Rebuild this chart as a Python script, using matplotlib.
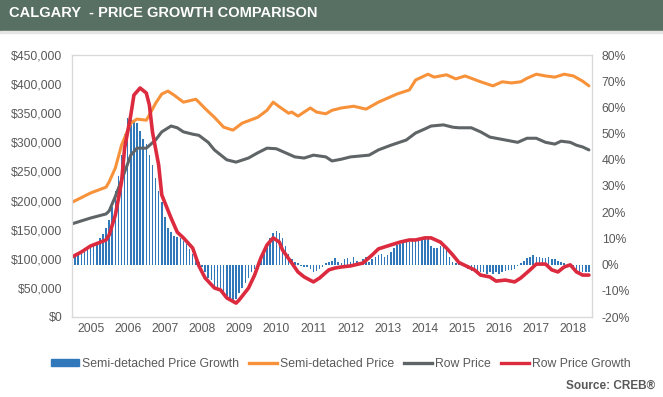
import numpy as np
import matplotlib.pyplot as plt
from matplotlib.patches import Patch, Rectangle
from matplotlib.lines import Line2D

# ---- data (month index 0 = Jan 2005) ----
years = [str(y) for y in range(2005, 2019)]

# Semi-detached price growth, % (monthly bars)
semi_growth = [
    2.5, 3, 3.5, 4.5, 5, 6, 6.5, 7.5, 8.5, 10, 11.5, 14,          # 2005
    17, 22, 28, 34, 42, 50, 56, 57, 55, 54, 51, 48,               # 2006
    46, 42, 38, 33, 28, 24, 18, 14, 12.5, 11, 10.5, 10,           # 2007
    9, 8, 6, 4, 2.5, 1, -1, -3, -5, -6, -8, -9,                   # 2008
    -10, -11, -12, -13, -14, -13, -11, -9, -7, -5, -3, -1.5,      # 2009
    0.5, 2, 4, 7, 10, 12, 13, 12, 10, 7, 4, 2,                    # 2010
    1, 0.5, -0.5, -1, -1, -1.5, -3, -2.5, -1.5, -1, 0.5, 1,       # 2011
    1.5, 2.5, 1, 0.5, 2, 2.5, 1, 3, 1.5, 0.5, 2, 3,               # 2012
    1, 2, 3, 3.5, 4, 3, 3.5, 5, 6.5, 7.5, 8, 8.5,                 # 2013
    8.5, 8.5, 9, 9.5, 9.5, 10, 10, 10, 7, 6.5, 6.5, 7,            # 2014
    7.5, 5.5, 3, 1, 0.5, 0.3, 0, -0.5, -1.5, -2.5, -3, -3,        # 2015
    -3, -3, -3.5, -3, -3.5, -3, -3.5, -3, -2.5, -2, -2, -1.5,     # 2016
    -0.5, 0.5, 1.5, 2.5, 3, 3.5, 3, 3, 2.5, 2.5, 3, 2,            # 2017
    2, 1.5, 1, 0.5, 0, -1, -2, -3, -3, -3, -3, -3,                # 2018
]

# Semi-detached price, $000
semi_m = [0, 6, 11, 12, 14, 16, 19, 21, 24, 25, 27, 29, 31, 33, 36, 40, 41, 43, 46,
          49, 52, 55, 60, 63, 65, 67, 70, 71, 73, 77, 79, 82, 84, 87, 91, 95, 99,
          105, 109, 111, 115, 117, 121, 124, 127, 132, 136, 139, 142, 145, 147,
          150, 153, 156, 159, 162, 165, 167]
semi_price = [197, 213, 223, 232, 256, 295, 333, 340, 338, 347, 367, 383, 388, 381,
              369, 374, 369, 358, 343, 326, 321, 333, 343, 355, 369, 361, 350, 352,
              345, 359, 352, 349, 355, 359, 362, 357, 369, 383, 390, 407, 417, 412,
              416, 409, 414, 404, 397, 404, 402, 404, 410, 417, 414, 412, 417, 414,
              405, 397]

# Row price, $000
row_m = [0, 6, 11, 12, 14, 17, 19, 21, 24, 27, 29, 32, 34, 36, 39, 41, 44, 46, 50,
         53, 57, 60, 63, 66, 69, 72, 75, 78, 82, 84, 87, 90, 96, 99, 103, 108, 111,
         114, 116, 120, 123, 125, 129, 132, 135, 137, 140, 144, 147, 150, 153, 156,
         158, 161, 163, 165, 167]
row_price = [160, 170, 177, 182, 207, 249, 278, 290, 290, 304, 318, 328, 325, 318,
             314, 312, 300, 287, 270, 266, 273, 282, 290, 289, 282, 275, 273, 278,
             275, 268, 271, 275, 278, 287, 295, 304, 316, 323, 328, 330, 326, 325,
             325, 318, 309, 307, 304, 300, 307, 307, 300, 297, 302, 300, 295, 292, 287]

# Row price growth, %
rowg_m = [0, 3, 6, 11, 12, 14, 16, 17, 19, 20, 22, 24, 25, 26, 28, 29, 32, 34, 36,
          39, 41, 43, 46, 48, 50, 53, 54, 57, 59, 61, 63, 65, 67, 68, 71, 73, 75,
          78, 80, 83, 85, 87, 90, 94, 97, 99, 103, 106, 109, 111, 114, 116, 119,
          121, 123, 125, 128, 130, 132, 135, 137, 140, 143, 145, 148, 150, 153,
          155, 157, 159, 161, 163, 165, 167]
row_growth = [2.9, 4.8, 7.1, 9.4, 11.3, 18.9, 31.5, 44.5, 57.1, 64.7, 67.4, 65.5,
              60.9, 50.6, 38, 26.6, 17.8, 12.4, 10.2, 6.3, -0.5, -5.1, -8.9, -9.7,
              -12.7, -14.7, -13.5, -9, -4, 2.5, 7.5, 10.2, 8.6, 5.6, 0.6, -2.8,
              -4.7, -6.6, -5.1, -2, -1.3, -0.9, -0.5, 0.6, 3.7, 6, 7.5, 8.6, 9.4,
              9.4, 10.2, 10.2, 8.6, 6.3, 3.7, 0.8, -0.9, -2, -4, -4.7, -6.3, -5.9,
              -6.6, -5.1, -2, 0.2, 0.2, -2, -2.8, -0.9, -0.1, -2.8, -4, -4]

BLUE = '#3178bb'
ORANGE = '#f7923a'
GRAY = '#5f6466'
RED = '#dc2a3e'
TXT = '#595959'
GRID = '#d9d9d9'
plt.rcParams['font.family'] = ['Liberation Sans', 'DejaVu Sans']

fig = plt.figure(figsize=(6.63, 3.97), dpi=100)

# header band
fig.patches.append(Rectangle((0, 1 - 31 / 397), 1, 31 / 397, transform=fig.transFigure,
                             color='#586f63', zorder=0))
fig.patches.append(Rectangle((0, 1 - 33 / 397), 1, 2 / 397, transform=fig.transFigure,
                             color='#e3e6e4', zorder=0))
fig.text(9 / 663, 1 - 13 / 397, 'CALGARY  - PRICE GROWTH COMPARISON', color='white',
         fontsize=10.5, fontweight='bold', va='center', ha='left')

rect = [72 / 663, 1 - 317 / 397, 520 / 663, 262 / 397]
ax = fig.add_axes(rect)          # % scale, bars
axp = ax.twinx()                 # $ scale, price lines
axr = ax.twinx()                 # % scale, red line on top

bx = 2005 + np.arange(len(semi_growth)) / 12
ax.bar(bx, semi_growth, width=0.042, color=BLUE, align='center', zorder=2)

axp.plot(2005 + np.array(semi_m) / 12, np.array(semi_price) * 1000, color=ORANGE,
         lw=2.2, solid_capstyle='round')
axp.plot(2005 + np.array(row_m) / 12, np.array(row_price) * 1000, color=GRAY,
         lw=2.2, solid_capstyle='round')
axr.plot(2005 + np.array(rowg_m) / 12, row_growth, color=RED, lw=2.6,
         solid_capstyle='round')

for a in (ax, axp, axr):
    a.set_xlim(2005, 2019)
    for s in a.spines.values():
        s.set_color(GRID)
        s.set_linewidth(0.8)
    a.tick_params(length=0)

ax.set_ylim(-20, 80)
axr.set_ylim(-20, 80)
axp.set_ylim(0, 450000)

ax.yaxis.tick_right()
ax.set_yticks(range(-20, 81, 10))
ax.set_yticklabels([f'{v}%' for v in range(-20, 81, 10)], color=TXT, fontsize=8.7)
ax.tick_params(axis='y', pad=7)

axp.yaxis.tick_left()
axp.set_yticks(range(0, 450001, 50000))
axp.set_yticklabels([f'${v:,}' for v in range(0, 450001, 50000)], color=TXT,
                    fontsize=8.8)
axp.tick_params(axis='y', pad=7)
axr.set_yticks([])

ax.set_xticks(range(2005, 2020))
ax.set_xticklabels([])
ax.grid(axis='x', color=GRID, lw=0.8, zorder=0)
ax.set_xticks(np.arange(2005.5, 2019, 1), minor=True)
ax.set_xticklabels(years, minor=True, color=TXT, fontsize=8.8)
ax.tick_params(axis='x', which='both', length=0, pad=4)
axp.set_xticks([])
axr.set_xticks([])

handles = [Patch(color=BLUE), Line2D([], [], color=ORANGE, lw=2.4),
           Line2D([], [], color=GRAY, lw=2.4), Line2D([], [], color=RED, lw=2.4)]
labels = ['Semi-detached Price Growth', 'Semi-detached Price', 'Row Price',
          'Row Price Growth']
leg = fig.legend(handles, labels, loc='center', bbox_to_anchor=(341 / 663, 1 - 364 / 397),
                 ncol=4, frameon=False, handlelength=2.3, handleheight=0.45,
                 handletextpad=0.25, columnspacing=0.8, fontsize=8.8)
for t in leg.get_texts():
    t.set_color(TXT)

fig.text(655 / 663, 1 - 386 / 397, 'Source: CREB®', ha='right', va='center',
         color=TXT, fontsize=8.5, fontweight='bold')

fig.savefig('out.png', dpi=100)
